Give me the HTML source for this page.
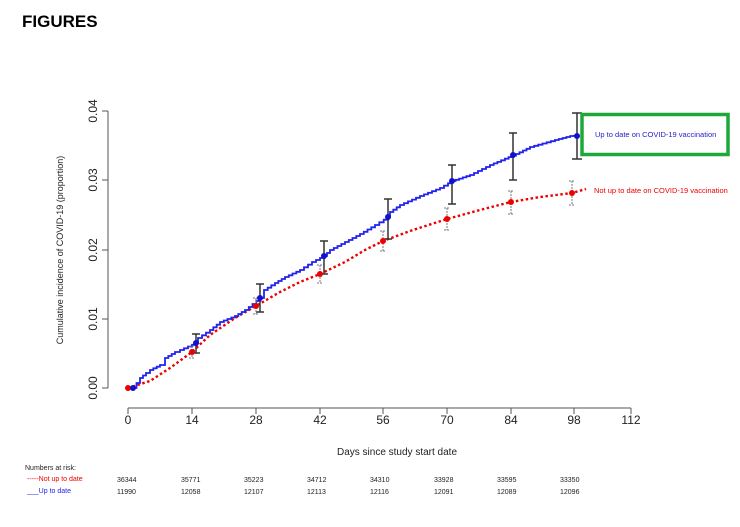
<!DOCTYPE html>
<html><head><meta charset="utf-8"><style>
body{margin:0;background:#fff;width:740px;height:527px;overflow:hidden}
svg{display:block}
text{font-family:"Liberation Sans",Arial,sans-serif}
</style></head><body>
<svg width="740" height="527" viewBox="0 0 740 527">
<text x="22" y="27" font-size="17" font-weight="bold" fill="#000">FIGURES</text>
<g stroke="#555" stroke-width="1" fill="none">
<line x1="108" y1="111" x2="108" y2="388"/>
<line x1="102" y1="111" x2="108" y2="111"/>
<line x1="102" y1="180" x2="108" y2="180"/>
<line x1="102" y1="250" x2="108" y2="250"/>
<line x1="102" y1="319" x2="108" y2="319"/>
<line x1="102" y1="388" x2="108" y2="388"/>
<line x1="128" y1="408" x2="631" y2="408"/>
<line x1="128" y1="408" x2="128" y2="414"/>
<line x1="192" y1="408" x2="192" y2="414"/>
<line x1="256" y1="408" x2="256" y2="414"/>
<line x1="320" y1="408" x2="320" y2="414"/>
<line x1="383" y1="408" x2="383" y2="414"/>
<line x1="447" y1="408" x2="447" y2="414"/>
<line x1="511" y1="408" x2="511" y2="414"/>
<line x1="574" y1="408" x2="574" y2="414"/>
<line x1="631" y1="408" x2="631" y2="414"/>
</g>
<g font-size="12" fill="#222" text-anchor="middle">
<text transform="translate(97,111) rotate(-90)">0.04</text>
<text transform="translate(97,180) rotate(-90)">0.03</text>
<text transform="translate(97,250) rotate(-90)">0.02</text>
<text transform="translate(97,319) rotate(-90)">0.01</text>
<text transform="translate(97,388) rotate(-90)">0.00</text>
<text x="128" y="424">0</text><text x="192" y="424">14</text><text x="256" y="424">28</text>
<text x="320" y="424">42</text><text x="383" y="424">56</text><text x="447" y="424">70</text>
<text x="511" y="424">84</text><text x="574" y="424">98</text><text x="631" y="424">112</text>
</g>
<text transform="translate(63,250) rotate(-90)" font-size="9" fill="#222" text-anchor="middle">Cumulative incidence of COVID-19 (proportion)</text>
<text x="397" y="455" font-size="10" fill="#222" text-anchor="middle">Days since study start date</text>
<polyline fill="none" stroke="#e00" stroke-width="2.4" stroke-dasharray="2.5,2.5" points="128,388 150,381 170,368 192,352 210,335 235,318 256,306 280,292 300,282 320,274 345,262 365,250 383,241 410,231 447,219 480,210 511,202 540,197 572,193 586,189"/>
<polyline id="blue" fill="none" stroke="#22e" stroke-width="1.8" points="133,388 140,378 146,373 150,370 160,365 165,358 175,352 180,350 196,343 198,338 210,330 220,322 235,316 245,310 260,298 264,290 275,283 285,277 300,270 312,262 324,256 330,250 345,242 360,234 375,225 388,217 390,212 400,205 420,196 440,188 452,181 470,175 490,165 516,154 530,147 555,140 574,135"/>
<g stroke="#333" stroke-width="1.5" fill="none">
<path d="M196,334V353M192,334h8M192,353h8"/>
<path d="M260,284V312M256,284h8M256,312h8"/>
<path d="M324,241V274M320,241h8M320,274h8"/>
<path d="M388,199V239M384,199h8M384,239h8"/>
<path d="M452,165V204M448,165h8M448,204h8"/>
<path d="M513,133V180M509,133h8M509,180h8"/>
<path d="M577,113V159M572,113h10M572,159h10"/>
</g>
<g stroke="#777" stroke-width="1" stroke-dasharray="2,1" fill="none">
<path d="M192,346V358M189,346h6M189,358h6"/>
<path d="M256,298V314M253,298h6M253,314h6"/>
<path d="M320,265V283M317,265h6M317,283h6"/>
<path d="M383,231V251M380,231h6M380,251h6"/>
<path d="M447,208V230M444,208h6M444,230h6"/>
<path d="M511,191V214M508,191h6M508,214h6"/>
<path d="M572,181V205M569,181h6M569,205h6"/>
</g>
<g fill="#e00">
<circle cx="128" cy="388" r="3"/><circle cx="192" cy="352" r="3"/><circle cx="256" cy="306" r="3"/>
<circle cx="320" cy="274" r="3"/><circle cx="383" cy="241" r="3"/><circle cx="447" cy="219" r="3"/>
<circle cx="511" cy="202" r="3"/><circle cx="572" cy="193" r="3"/>
</g>
<g fill="#11c">
<circle cx="133" cy="388" r="3"/><circle cx="196" cy="343" r="3"/><circle cx="260" cy="298" r="3"/>
<circle cx="324" cy="256" r="3"/><circle cx="388" cy="217" r="3"/><circle cx="452" cy="181" r="3"/>
<circle cx="513" cy="155" r="3"/><circle cx="577" cy="136" r="3"/>
</g>
<rect x="582" y="114.5" width="146" height="40" fill="none" stroke="#1fa83a" stroke-width="3.5"/>
<text x="595" y="137" font-size="7.5" fill="#22c">Up to date on COVID-19 vaccination</text>
<text x="594" y="193" font-size="7.5" fill="#e00">Not up to date on COVID-19 vaccination</text>
<text x="25" y="470" font-size="7" fill="#222">Numbers at risk:</text>
<text x="27" y="481" font-size="7" fill="#e00">-----Not up to date</text>
<text x="27" y="493" font-size="7" fill="#22e">___Up to date</text>
<g font-size="7" fill="#222">
<text x="117" y="482">36344</text><text x="181" y="482">35771</text><text x="244" y="482">35223</text><text x="307" y="482">34712</text>
<text x="370" y="482">34310</text><text x="434" y="482">33928</text><text x="497" y="482">33595</text><text x="560" y="482">33350</text>
<text x="117" y="494">11990</text><text x="181" y="494">12058</text><text x="244" y="494">12107</text><text x="307" y="494">12113</text>
<text x="370" y="494">12116</text><text x="434" y="494">12091</text><text x="497" y="494">12089</text><text x="560" y="494">12096</text>
</g>
</svg>
<script>
(function(){
var el=document.getElementById('blue');
var pts=el.getAttribute('points').trim().split(/\s+/).map(function(p){return p.split(',').map(Number);});
var out=[pts[0]];
for(var i=1;i<pts.length;i++){
 var a=pts[i-1],b=pts[i];
 var n=Math.max(1,Math.round((b[0]-a[0])/4));
 for(var k=1;k<=n;k++){
  var x=a[0]+(b[0]-a[0])*k/n, y=a[1]+(b[1]-a[1])*k/n;
  var prev=out[out.length-1];
  out.push([x,prev[1]]);out.push([x,y]);
 }
}
el.setAttribute('points',out.map(function(p){return p[0].toFixed(1)+','+p[1].toFixed(1);}).join(' '));
})();
</script>
</body></html>
